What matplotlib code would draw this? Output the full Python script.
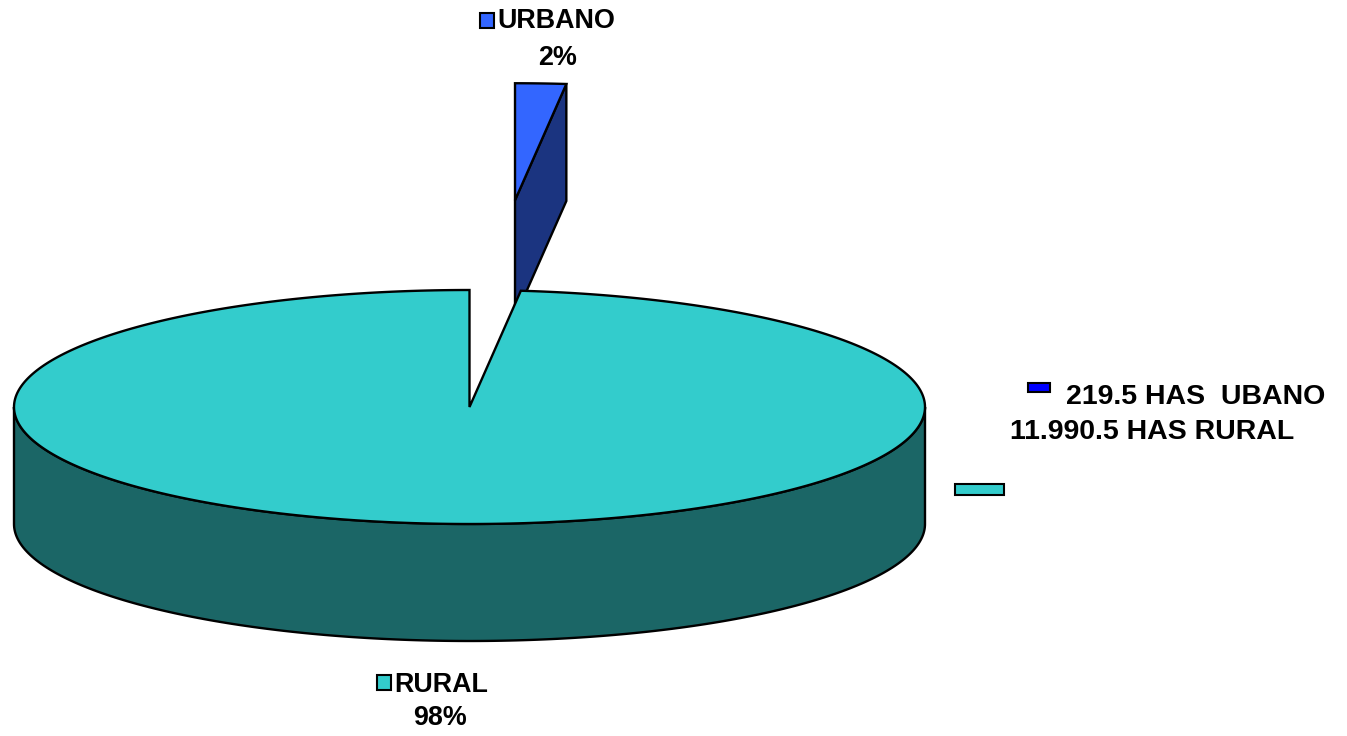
import numpy as np
import matplotlib.pyplot as plt
from matplotlib.patches import Polygon, Rectangle

# data
categories = ['URBANO', 'RURAL']
hectares = [219.5, 11990.5]
pct_labels = ['2%', '98%']
legend_labels = ['219.5 HAS  UBANO', '11.990.5 HAS RURAL']

top_colors = ['#3366FF', '#33CCCC']
side_colors = ['#1B3480', '#1B6666']
legend_colors = ['#0000FF', '#33CCCC']

W, H = 1347, 736
fig = plt.figure(figsize=(W / 100, H / 100), dpi=100)
ax = fig.add_axes([0, 0, 1, 1])
ax.set_xlim(0, W)
ax.set_ylim(H, 0)
ax.axis('off')

# pie geometry (pixel space, y down)
cx, cy = 469.5, 407.0
a, b = 455.5, 117.0
depth = 117.0
explode = 1.77
lw = 1.7
family = ['Liberation Sans', 'DejaVu Sans']
fnt = dict(fontsize=19.4, fontweight='bold', family=family)
lfnt = dict(fontsize=20.5, fontweight='bold', family=family)


def pt(theta, ox=0.0, oy=0.0, dz=0.0):
    t = np.radians(theta)
    return np.column_stack([ox + a * np.cos(t), oy - b * np.sin(t) + dz])


total = sum(hectares)
frac = [h / total for h in hectares]
start = 90.0
urb_end = start - 360 * frac[0]

# urban slice, exploded away from the center
mid = np.radians((start + urb_end) / 2)
ux = cx + explode * a * np.cos(mid)
uy = cy - explode * b * np.sin(mid)
rim = pt(urb_end, ux, uy)[0]
face = [(ux, uy), tuple(rim), (rim[0], rim[1] + depth), (ux, uy + depth)]
ax.add_patch(Polygon(face, closed=True, fc=side_colors[0], ec='black', lw=lw))
th = np.linspace(urb_end, start, 20)
top = np.vstack([[ux, uy], pt(th, ux, uy)])
ax.add_patch(Polygon(top, closed=True, fc=top_colors[0], ec='black', lw=lw))

# rural slice: side wall (front half) then top face
th = np.linspace(180, 360, 200)
upper = pt(th, cx, cy)
lower = pt(th[::-1], cx, cy, depth)
ax.add_patch(Polygon(np.vstack([upper, lower]), closed=True,
                     fc=side_colors[1], ec='black', lw=lw))
th = np.linspace(start, urb_end + 360, 400)
top = np.vstack([[cx, cy], pt(th, cx, cy)])
ax.add_patch(Polygon(top, closed=True, fc=top_colors[1], ec='black', lw=lw, joinstyle='miter'))

# data labels
ax.add_patch(Rectangle((480, 13), 14, 15, fc=top_colors[0], ec='black', lw=1.5))
ax.text(497, 21, categories[0], ha='left', va='center', **fnt)
ax.text(558, 58, pct_labels[0], ha='center', va='center', **fnt)
ax.add_patch(Rectangle((377, 675), 14, 15, fc=top_colors[1], ec='black', lw=1.5))
ax.text(394, 685, categories[1], ha='left', va='center', **fnt)
ax.text(440, 718, pct_labels[1], ha='center', va='center', **fnt)

# legend
ax.add_patch(Rectangle((1028, 383), 22, 9, fc=legend_colors[0], ec='black', lw=1.5))
ax.text(1066, 397, legend_labels[0], ha='left', va='center', **lfnt)
ax.text(1010, 432, legend_labels[1], ha='left', va='center', **lfnt)
ax.add_patch(Rectangle((955, 484), 49, 11, fc=legend_colors[1], ec='black', lw=1.5))

fig.savefig('out.png', dpi=100)
